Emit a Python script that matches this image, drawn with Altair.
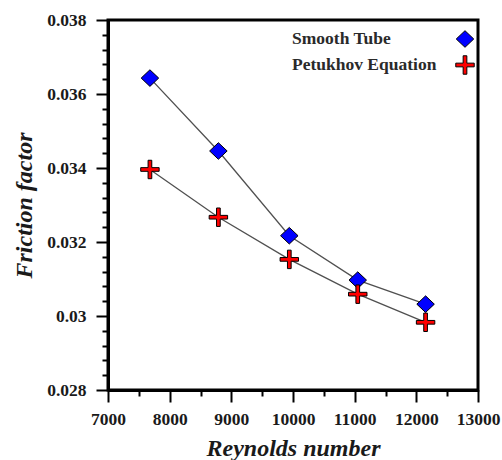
import altair as alt
import pandas as pd

reynolds = [7680, 8790, 9940, 11050, 12150]
smooth_tube = [0.03643, 0.03446, 0.03217, 0.03097, 0.03032]
petukhov = [0.03396, 0.03267, 0.03153, 0.03059, 0.02983]
series_names = ["Smooth Tube", "Petukhov Equation"]

x_major = [7000, 8000, 9000, 10000, 11000, 12000, 13000]
x_minor = [7500, 8500, 9500, 10500, 11500, 12500]
y_major = [0.028, 0.030, 0.032, 0.034, 0.036, 0.038]
y_minor = [0.0284, 0.0288, 0.0292, 0.0296, 0.0304, 0.0308, 0.0312, 0.0316,
           0.0324, 0.0328, 0.0332, 0.0336, 0.0344, 0.0348, 0.0352, 0.0356,
           0.0364, 0.0368, 0.0372, 0.0376]

rows = []
for name, vals in zip(series_names, [smooth_tube, petukhov]):
    for r, f in zip(reynolds, vals):
        rows.append({"Re": r, "f": f, "series": name})
df = pd.DataFrame(rows)

FONT = "Liberation Serif"
DIAMOND = "M0,-0.9L0.95,0L0,0.9L-0.95,0Z"
CROSS = "M-1,-0.2H-0.2V-1H0.2V-0.2H1V0.2H0.2V1H-0.2V0.2H-1Z"

xscale = alt.Scale(domain=[7000, 13000], nice=False, zero=False)
yscale = alt.Scale(domain=[0.028, 0.038], nice=False, zero=False)

x_axis = alt.Axis(values=x_major, format="d", title="Reynolds number", orient="bottom",
                  tickSize=12, tickWidth=2, tickColor="black",
                  domainColor="black", domainWidth=3,
                  labelFont=FONT, labelFontSize=17.5, labelFontWeight="bold",
                  labelColor="#1a1a1a", labelPadding=8, labelOverlap=False,
                  labelFlush=False,
                  titleFont=FONT, titleFontSize=24, titleFontWeight="bold",
                  titleFontStyle="italic", titleColor="#1a1a1a",
                  titleY=65, titleBaseline="alphabetic", grid=False)
y_axis = alt.Axis(values=y_major, format=".3~f", title="Friction factor", orient="left",
                  tickSize=12, tickWidth=2, tickColor="black",
                  domainColor="black", domainWidth=3,
                  labelFont=FONT, labelFontSize=17.5, labelFontWeight="bold",
                  labelColor="#1a1a1a", labelPadding=10, labelOverlap=False,
                  labelFlush=False,
                  titleFont=FONT, titleFontSize=24, titleFontWeight="bold",
                  titleFontStyle="italic", titleColor="#1a1a1a",
                  titleX=-72, titleBaseline="bottom", grid=False)

base = alt.Chart(df)

lines = base.mark_line(color="#505050", strokeWidth=1.3).encode(
    x=alt.X("Re:Q", scale=xscale, axis=x_axis),
    y=alt.Y("f:Q", scale=yscale, axis=y_axis),
    detail="series:N",
)

points = base.mark_point(filled=True, stroke="black", strokeWidth=1,
                         size=340, opacity=1).encode(
    x=alt.X("Re:Q", scale=xscale, axis=None),
    y=alt.Y("f:Q", scale=yscale, axis=None),
    color=alt.Color("series:N",
                    scale=alt.Scale(domain=series_names, range=["#0000ff", "#ff0000"]),
                    legend=alt.Legend(title=None, orient="none", legendX=347, legendY=9,
                                      labelFont=FONT, labelFontSize=17.5,
                                      labelFontWeight="bold", labelColor="#2a2a2a",
                                      labelOffset={"expr": "-183"}, labelAlign="left",
                                      symbolSize=340, symbolStrokeColor="black",
                                      symbolStrokeWidth=1, symbolOpacity=1,
                                      rowPadding=3)),
    shape=alt.Shape("series:N",
                    scale=alt.Scale(domain=series_names, range=[DIAMOND, CROSS])),
)

minor = alt.Chart(df).mark_point(opacity=0).encode(
    x=alt.X("Re:Q", scale=xscale,
            axis=alt.Axis(values=x_minor, labels=False, title=None, domain=False, orient="bottom",
                          tickSize=6, tickWidth=2, tickColor="black", grid=False)),
    y=alt.Y("f:Q", scale=yscale,
            axis=alt.Axis(values=y_minor, labels=False, title=None, domain=False, orient="left",
                          tickSize=6, tickWidth=2, tickColor="black", grid=False)),
)

chart = alt.layer(minor, lines, points).resolve_axis(
    x="independent", y="independent"
).properties(
    width=370, height=370,
    background="white",
    autosize=alt.AutoSizeParams(type="none"),
    padding={"left": 108, "top": 20, "right": 24, "bottom": 70},
).configure_view(stroke="black", strokeWidth=3)

chart.save("out.html", embed_options={"renderer": "svg", "actions": False})
